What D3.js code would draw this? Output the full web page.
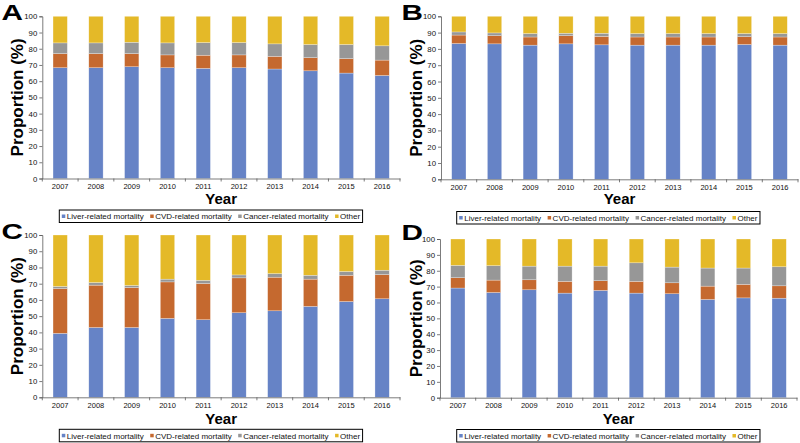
<!DOCTYPE html>
<html>
<head>
<meta charset="utf-8">
<script src="https://cdn.jsdelivr.net/npm/d3@7"></script>
<style>
  body { margin: 0; background: #fff; }
  svg { display: block; }
  text { font-family: Arial, "Liberation Sans", Helvetica, sans-serif; }
</style>
</head>
<body>
<svg id="chart" width="800" height="443"></svg>
<script>
// ---- Data ----
const years = ["2007","2008","2009","2010","2011","2012","2013","2014","2015","2016"];
const seriesNames = ["Liver-related mortality","CVD-related mortality","Cancer-related mortality","Other"];
const yTicks = [0,10,20,30,40,50,60,70,80,90,100];

// Panel A
const liverA  = [68.3, 68.3, 68.9, 68.3, 67.9, 68.3, 67.5, 66.4, 65.0, 63.5];
const cvdA    = [8.7, 8.7, 8.1, 7.9, 8.1, 7.9, 7.8, 8.1, 8.9, 9.5];
const cancerA = [6.6, 6.6, 7.0, 7.4, 7.8, 7.6, 7.7, 8.1, 8.7, 8.8];
const otherA  = [16.4, 16.4, 16.0, 16.4, 16.2, 16.2, 17.0, 17.4, 17.4, 18.2];
// Panel B
const liverB  = [83.3, 83.1, 82.3, 83.1, 82.5, 82.3, 82.3, 82.3, 82.7, 82.3];
const cvdB    = [5.2, 5.0, 5.0, 5.0, 5.2, 5.0, 5.0, 5.0, 4.8, 5.0];
const cancerB = [1.9, 1.7, 2.1, 1.5, 1.9, 2.1, 2.1, 2.1, 1.9, 2.1];
const otherB  = [9.6, 10.2, 10.6, 10.4, 10.4, 10.6, 10.6, 10.6, 10.6, 10.6];
// Panel C
const liverC  = [39.4, 43.0, 43.0, 48.6, 47.8, 52.1, 53.3, 56.0, 59.0, 60.7];
const cvdC    = [27.6, 26.1, 24.6, 22.5, 22.3, 21.5, 20.7, 16.8, 16.2, 14.9];
const cancerC = [1.3, 1.6, 1.3, 1.7, 2.0, 1.8, 2.2, 2.4, 2.3, 2.7];
const otherC  = [31.7, 29.3, 31.1, 27.2, 27.9, 24.6, 23.8, 24.8, 22.5, 21.7];
// Panel D
const liverD  = [69.1, 66.3, 68.0, 65.9, 67.6, 65.9, 65.5, 61.9, 62.9, 62.7];
const cvdD    = [6.5, 7.8, 6.3, 7.4, 6.1, 7.4, 6.9, 8.4, 8.5, 7.8];
const cancerD = [7.8, 9.1, 8.6, 9.6, 9.2, 11.7, 9.9, 11.4, 10.3, 12.0];
const otherD  = [16.6, 16.8, 17.1, 17.1, 17.1, 15.0, 17.7, 18.3, 18.3, 17.5];

const colors = ["#6683c6", "#c5692f", "#979797", "#e4b928"];

// ---- Layout (positions only) ----
const panels = [
  { letter: "A", data: [liverA, cvdA, cancerA, otherA], x0: 42.3, x1: 400, yTop: 16.3, yBot: 178.5, lx: 1.5, ly: 20, titleX: 22.5, yearY: 204, legY: 210, legX: 59.3 },
  { letter: "B", data: [liverB, cvdB, cancerB, otherB], x0: 441, x1: 798, yTop: 16.3, yBot: 179.3, lx: 401.5, ly: 19.5, titleX: 422, yearY: 204, legY: 211.5, legX: 456.7 },
  { letter: "C", data: [liverC, cvdC, cancerC, otherC], x0: 42.3, x1: 400, yTop: 235, yBot: 397.3, lx: 1.5, ly: 238.5, titleX: 22.5, yearY: 424, legY: 429.3, legX: 59.3 },
  { letter: "D", data: [liverD, cvdD, cancerD, otherD], x0: 440, x1: 797, yTop: 239, yBot: 397.7, lx: 401.5, ly: 240, titleX: 422, yearY: 424, legY: 429.5, legX: 456.7 }
];

const svg = d3.select("#chart");

panels.forEach(p => {
  const g = svg.append("g");
  const x = d3.scaleBand().domain(years).range([p.x0, p.x1]).paddingInner(0.6).paddingOuter(0.3);
  const y = d3.scaleLinear().domain([0, 100]).range([p.yBot, p.yTop]);

  const rows = years.map((yr, i) => {
    const o = { year: yr };
    seriesNames.forEach((s, k) => o[s] = p.data[k][i]);
    return o;
  });
  const stacked = d3.stack().keys(seriesNames)(rows);

  g.selectAll("g.series").data(stacked).join("g")
    .attr("fill", (d, k) => colors[k])
    .selectAll("rect").data(d => d).join("rect")
    .attr("x", d => x(d.data.year))
    .attr("width", x.bandwidth())
    .attr("y", d => y(Math.min(100, d[1])))
    .attr("height", d => y(d[0]) - y(Math.min(100, d[1])))
    .attr("stroke", "#ffffff")
    .attr("stroke-opacity", 0.55)
    .attr("stroke-width", 0.5);

  // y axis
  const ya = g.append("g").attr("transform", `translate(${p.x0},0)`)
    .call(d3.axisLeft(y).tickValues(yTicks).tickSize(3).tickPadding(2).tickFormat(d3.format("d")));
  ya.select(".domain").attr("stroke", "#5a5a5a").attr("stroke-width", 0.8);
  ya.selectAll(".tick line").attr("stroke", "#5a5a5a").attr("stroke-width", 0.8);
  ya.selectAll(".tick text").attr("font-size", 7.8).attr("fill", "#111")
    .style("font-family", "Arial, 'Liberation Sans', sans-serif");

  // x axis
  const xa = g.append("g").attr("transform", `translate(0,${p.yBot})`)
    .call(d3.axisBottom(x).tickSize(0).tickPadding(5));
  xa.select(".domain").attr("stroke", "#5a5a5a").attr("stroke-width", 0.8);
  xa.selectAll(".tick text").attr("font-size", 7.5).attr("fill", "#111")
    .style("font-family", "Arial, 'Liberation Sans', sans-serif");
  const bounds = d3.range(years.length + 1).map(i => x.range()[0] + i * x.step());
  xa.selectAll("line.bt").data(bounds).join("line").attr("class", "bt")
    .attr("x1", d => d).attr("x2", d => d).attr("y1", 0).attr("y2", 3)
    .attr("stroke", "#5a5a5a").attr("stroke-width", 0.8);

  // axis titles
  g.append("text")
    .attr("transform", `translate(${p.titleX},${(p.yTop + p.yBot) / 2}) rotate(-90)`)
    .attr("text-anchor", "middle").attr("font-size", 17).attr("font-weight", "bold")
    .attr("fill", "#000").text("Proportion (%)");
  g.append("text")
    .attr("x", (p.x0 + p.x1) / 2).attr("y", p.yearY)
    .attr("text-anchor", "middle").attr("font-size", 15).attr("font-weight", "bold")
    .attr("fill", "#000").text("Year");

  // panel letter
  g.append("text")
    .attr("transform", `translate(${p.lx},${p.ly}) scale(1.35,1)`)
    .attr("font-size", 22).attr("font-weight", "bold").attr("fill", "#000")
    .text(p.letter);

  // legend
  const lg = g.append("g").attr("transform", `translate(${p.legX},${p.legY})`);
  const box = lg.append("rect").attr("x", 0).attr("y", 0).attr("height", 12.5)
    .attr("fill", "#fff").attr("stroke", "#000").attr("stroke-width", 1);
  let cx = 2.5;
  seriesNames.forEach((s, k) => {
    lg.append("rect").attr("x", cx).attr("y", 4.5).attr("width", 3.5).attr("height", 3.5).attr("fill", colors[k]);
    const t = lg.append("text").attr("x", cx + 5).attr("y", 9.3).attr("font-size", 8).attr("fill", "#111").text(s);
    const w = t.node().getComputedTextLength();
    cx = cx + 5 + w + 6.5;
  });
  box.attr("width", cx - 4);
});
</script>
</body>
</html>
